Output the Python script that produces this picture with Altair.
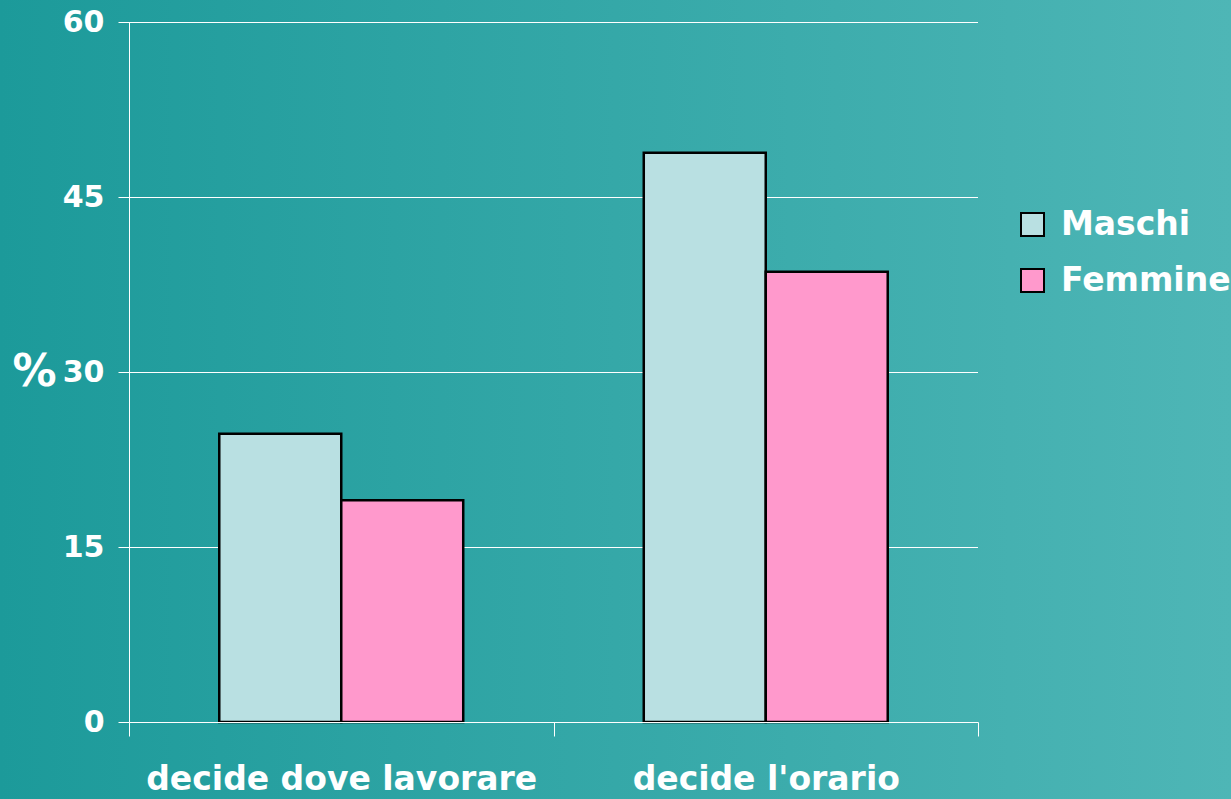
import altair as alt
import pandas as pd

# Survey shares (%) by category and sex
categories = ["decide dove lavorare", "decide l'orario"]
groups = ["Maschi", "Femmine"]
maschi = [24.7, 48.8]
femmine = [19.0, 38.6]
y_ticks = [0, 15, 30, 45, 60]

rows = []
for i, cat in enumerate(categories):
    rows.append({"categoria": cat, "sesso": "Maschi", "valore": maschi[i]})
    rows.append({"categoria": cat, "sesso": "Femmine", "valore": femmine[i]})
df = pd.DataFrame(rows)
grid_df = pd.DataFrame({"valore": y_ticks[1:]})

W, H = 849, 700
PAD_L, PAD_T = 129, 22
FONT = "DejaVu Sans"
Y_SCALE = alt.Scale(domain=[0, 60], nice=False)
Y_AXIS = alt.Axis(values=y_ticks, title="%", titleAngle=0,
                  titleX=-95, titleY=350, titleAlign="center",
                  titleBaseline="middle", titleFont=FONT,
                  titleFontSize=44, titleFontWeight="bold",
                  titleColor="white",
                  domainColor="white", tickColor="white",
                  tickSize=11, labelPadding=14,
                  labelFont=FONT, labelFontSize=30,
                  labelFontWeight="bold", labelColor="white",
                  grid=False, zindex=1)

# full-canvas teal gradient behind everything
bg = alt.Chart(pd.DataFrame({"k": [0]})).mark_rect(
    fill=alt.Gradient(
        gradient="linear",
        stops=[alt.GradientStop(color="#1c9a9a", offset=0),
               alt.GradientStop(color="#4eb6b6", offset=1)],
        x1=0, x2=1, y1=0, y2=0,
    )
).encode(
    x=alt.value(-PAD_L), x2=alt.value(1231 - PAD_L),
    y=alt.value(-PAD_T), y2=alt.value(799 - PAD_T),
)

# horizontal white gridlines, kept behind the bars
grid = alt.Chart(grid_df).mark_rule(color="white", strokeWidth=1, yOffset=0.5).encode(
    y=alt.Y("valore:Q", scale=Y_SCALE, axis=Y_AXIS),
    x=alt.value(0), x2=alt.value(W),
)

bars = alt.Chart(df).mark_bar(stroke="black", strokeWidth=2.5).encode(
    x=alt.X("categoria:N", sort=categories,
            scale=alt.Scale(paddingInner=0, paddingOuter=0),
            axis=alt.Axis(title=None, labelAngle=0, tickBand="extent",
                          domainColor="white", tickColor="white",
                          tickSize=14, labelPadding=27, labelLimit=0,
                          labelFont=FONT, labelFontSize=33,
                          labelFontWeight="bold", labelColor="white",
                          grid=False, zindex=1)),
    xOffset=alt.XOffset("sesso:N", sort=groups,
                        scale=alt.Scale(paddingInner=0, paddingOuter=0.74)),
    y=alt.Y("valore:Q", scale=Y_SCALE, axis=Y_AXIS),
    color=alt.Color("sesso:N", sort=groups,
                    scale=alt.Scale(domain=groups, range=["#b9e0e2", "#ff99cc"]),
                    legend=alt.Legend(title=None, orient="none",
                                      legendX=887, legendY=186,
                                      symbolType="square", symbolSize=529,
                                      symbolStrokeColor="black",
                                      symbolStrokeWidth=2,
                                      symbolOpacity=1,
                                      labelFont=FONT, labelFontSize=33,
                                      labelFontWeight="bold",
                                      labelColor="white", labelLimit=0,
                                      labelOffset=12, rowPadding=22)),
)

chart = alt.layer(bg, grid, bars).properties(
    width=W, height=H,
    autosize=alt.AutoSizeParams(type="none"),
    padding={"left": PAD_L, "top": PAD_T, "right": 1231 - PAD_L - W,
             "bottom": 799 - PAD_T - H},
    background="#1c9a9a",
).configure_view(stroke=None)

chart.save("out.html", embed_options={"renderer": "svg", "actions": False})
